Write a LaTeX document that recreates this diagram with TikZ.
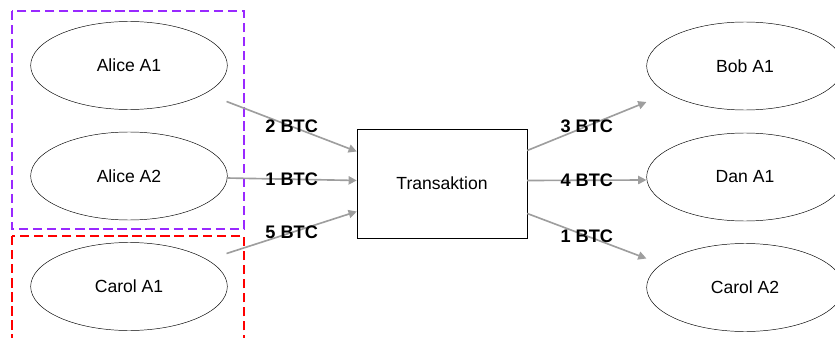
\documentclass[tikz,border=0pt]{standalone}
\usepackage{fontspec}
\setmainfont{Liberation Sans}
\usetikzlibrary{arrows.meta, shapes.geometric, calc}
\definecolor{xGray}{RGB}{158,158,158}
\definecolor{xViolet}{RGB}{153,41,255}
\definecolor{xRed}{RGB}{255,0,0}
\tikzset{
  acct/.style={draw, ellipse, minimum width=5.9cm, minimum height=2.64cm, font=\fontsize{15}{18}\selectfont},
  txbox/.style={draw, rectangle, minimum width=5.1cm, minimum height=3.27cm, font=\fontsize{15}{18}\selectfont},
  flow/.style={-{Triangle[length=7pt, width=7pt]}, line width=1.4pt, xGray},
  amount/.style={font=\fontsize{15.5}{18}\selectfont\bfseries, text=black},
  owner/.style={line width=1.6pt, dash pattern=on 8pt off 4pt},
}

\begin{document}
\begin{tikzpicture}[x=0.03cm, y=-0.03cm]
    \useasboundingbox (0,0) rectangle (835,338);
    % owner groups
    \draw[owner, xViolet] (12,11) rectangle (244,229);
    \draw[owner, xRed] (12,236) rectangle (244,350);
    % inputs
    \node[acct] (a1) at (129,65.5) {Alice A1};
    \node[acct] (a2) at (129,176)  {Alice A2};
    \node[acct] (c1) at (129,286.5) {Carol A1};
    % transaction
    \node[txbox] (tx) at (442,183.5) {Transaktion};
    % outputs
    \node[acct] (b1) at (745,66)  {Bob A1};
    \node[acct] (d1) at (745,177) {Dan A1};
    \node[acct] (c2) at (745,287.5) {Carol A2};
    \draw[flow] ($(a1.east)+(-1,36)$) -- ($(tx.west)+(0,-32)$)
      node[amount, midway] {2 BTC};
    \draw[flow] ($(a2.east)+(-1,2)$) -- ($(tx.west)+(0,-3)$)
      node[amount, midway] {1 BTC};
    \draw[flow] ($(c1.east)+(-1,-33)$) -- ($(tx.west)+(0,28)$)
      node[amount, midway] {5 BTC};
    \draw[flow] ($(tx.east)+(0,-33)$) -- ($(b1.west)+(0,36)$)
      node[amount, midway] {3 BTC};
    \draw[flow] ($(tx.east)+(0,-3)$) -- ($(d1.west)+(0,3)$)
      node[amount, midway] {4 BTC};
    \draw[flow] ($(tx.east)+(0,30)$) -- ($(c2.west)+(0,-29)$)
      node[amount, midway] {1 BTC};
  \end{tikzpicture}
\end{document}
